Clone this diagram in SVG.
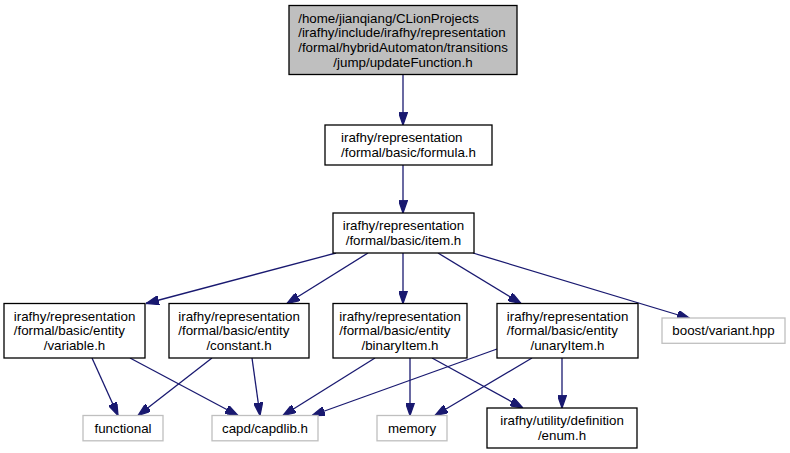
<svg xmlns="http://www.w3.org/2000/svg" width="790" height="453" viewBox="0 0 790 453">
<style>
  .n rect { fill: #ffffff; stroke: #000000; stroke-width: 1.3; }
  .n.root rect { fill: #bfbfbf; }
  .n.ext rect { stroke: #bfbfbf; }
  text { font-family: "Liberation Sans", Arial, Helvetica, sans-serif; font-size: 13.33px; fill: #000000; }
  .c { text-anchor: middle; }
  .edges line { stroke: #191970; stroke-width: 1.3; fill: none; marker-end: url(#arr); }
</style>
<defs>
  <marker id="arr" viewBox="0 0 10 7" refX="10" refY="3.5" markerWidth="13" markerHeight="9" markerUnits="userSpaceOnUse" orient="auto">
    <path d="M0,0 L10,3.5 L0,7 z" fill="#191970" stroke="#191970"/>
  </marker>
</defs>
<rect width="790" height="453" fill="#ffffff"/>

<g class="edges" id="edges">
  <line x1="403" y1="74.5" x2="403" y2="125"/>
  <line x1="403" y1="165" x2="403" y2="213"/>
  <line x1="336" y1="253" x2="146" y2="303.5"/>
  <line x1="368" y1="253" x2="287" y2="303.5"/>
  <line x1="403" y1="253" x2="403" y2="303.5"/>
  <line x1="438" y1="253" x2="521" y2="303.5"/>
  <line x1="473" y1="253" x2="690" y2="318.5"/>
  <line x1="92" y1="358" x2="118" y2="415.5"/>
  <line x1="130" y1="358" x2="238" y2="415.5"/>
  <line x1="212" y1="358" x2="138" y2="415.5"/>
  <line x1="252" y1="358" x2="260" y2="415.5"/>
  <line x1="375" y1="358" x2="283" y2="415.5"/>
  <line x1="410" y1="358" x2="410" y2="415.5"/>
  <line x1="432" y1="358" x2="523" y2="408"/>
  <line x1="497" y1="349" x2="312" y2="415.5"/>
  <line x1="532" y1="358" x2="435" y2="415.5"/>
  <line x1="562" y1="358" x2="562" y2="408"/>
</g>

<g class="n root" id="node_updateFunction">
  <rect x="289" y="5.5" width="228" height="69"/>
  <text x="298.2" y="22.7">/home/jianqiang/CLionProjects</text>
  <text x="298.2" y="37.4">/irafhy/include/irafhy/representation</text>
  <text x="298.2" y="52">/formal/hybridAutomaton/transitions</text>
  <text class="c" x="403" y="66.7">/jump/updateFunction.h</text>
</g>

<g class="n" id="node_formula">
  <rect x="325" y="125" width="167" height="40"/>
  <text x="341" y="142.4">irafhy/representation</text>
  <text class="c" x="408.5" y="157.1">/formal/basic/formula.h</text>
</g>

<g class="n" id="node_item">
  <rect x="333" y="213" width="141" height="40"/>
  <text x="342.7" y="230.4">irafhy/representation</text>
  <text class="c" x="403.5" y="245.1">/formal/basic/item.h</text>
</g>

<g class="n" id="node_variable">
  <rect x="4" y="303.5" width="141" height="54.5"/>
  <text x="13.8" y="320.5">irafhy/representation</text>
  <text x="13.8" y="335.2">/formal/basic/entity</text>
  <text class="c" x="74.5" y="349.9">/variable.h</text>
</g>

<g class="n" id="node_constant">
  <rect x="169" y="303.5" width="140" height="54.5"/>
  <text x="178.3" y="320.5">irafhy/representation</text>
  <text x="178.3" y="335.2">/formal/basic/entity</text>
  <text class="c" x="239" y="349.9">/constant.h</text>
</g>

<g class="n" id="node_binaryItem">
  <rect x="333" y="303.5" width="134" height="54.5"/>
  <text x="339.3" y="320.5">irafhy/representation</text>
  <text x="339.3" y="335.2">/formal/basic/entity</text>
  <text class="c" x="400" y="349.9">/binaryItem.h</text>
</g>

<g class="n" id="node_unaryItem">
  <rect x="497" y="303.5" width="141" height="54.5"/>
  <text x="506.8" y="320.5">irafhy/representation</text>
  <text x="506.8" y="335.2">/formal/basic/entity</text>
  <text class="c" x="567.5" y="349.9">/unaryItem.h</text>
</g>

<g class="n ext" id="node_boost">
  <rect x="662" y="318" width="123" height="25.3"/>
  <text class="c" x="723.5" y="335.2">boost/variant.hpp</text>
</g>

<g class="n ext" id="node_functional">
  <rect x="83" y="415.5" width="80" height="25.3"/>
  <text class="c" x="123" y="433">functional</text>
</g>

<g class="n ext" id="node_capdlib">
  <rect x="212" y="415.5" width="106" height="25.3"/>
  <text class="c" x="265" y="433">capd/capdlib.h</text>
</g>

<g class="n ext" id="node_memory">
  <rect x="377" y="415.5" width="70" height="25.3"/>
  <text class="c" x="412" y="433">memory</text>
</g>

<g class="n" id="node_enum">
  <rect x="487" y="408" width="150" height="40"/>
  <text x="500.2" y="425.4">irafhy/utility/definition</text>
  <text class="c" x="562" y="440.1">/enum.h</text>
</g>
</svg>
